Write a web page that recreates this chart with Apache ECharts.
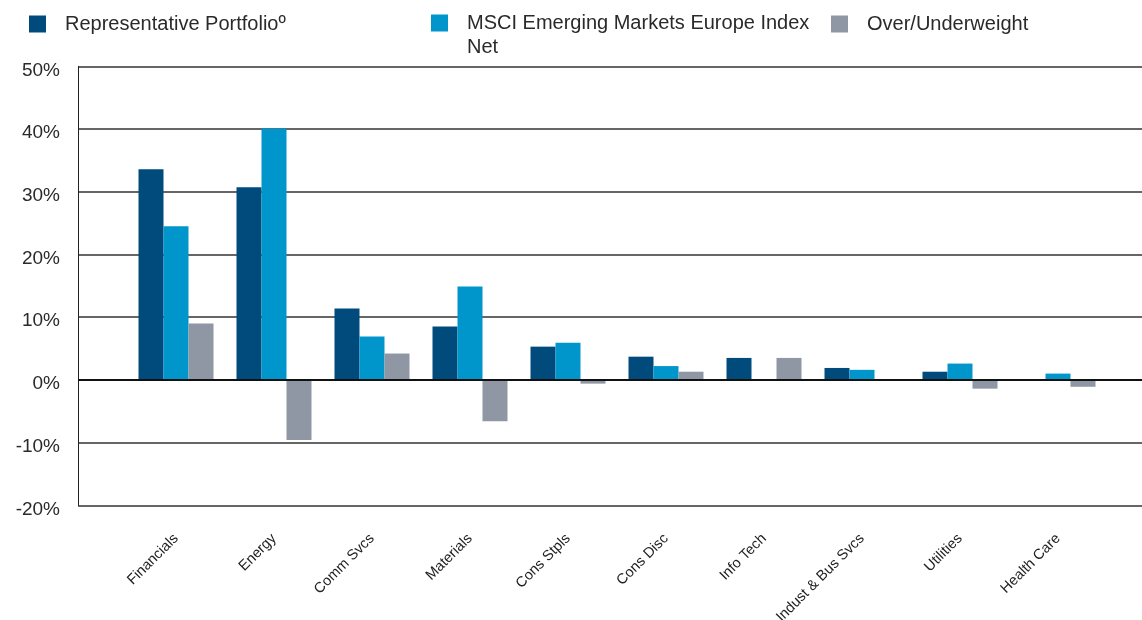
<!DOCTYPE html>
<html>
<head>
<meta charset="utf-8">
<script src="https://cdn.jsdelivr.net/npm/echarts@6/dist/echarts.min.js"></script>
<style>html,body{margin:0;padding:0;background:#fff}#c{width:1142px;height:620px}</style>
</head>
<body>
<div id="c"></div>
<script>
const categories = ['Financials','Energy','Comm Svcs','Materials','Cons Stpls','Cons Disc','Info Tech','Indust & Bus Svcs','Utilities','Health Care'];
const portfolio = [33.6, 30.7, 11.4, 8.5, 5.3, 3.7, 3.5, 1.9, 1.3, 0];
const benchmark = [24.5, 40.1, 6.9, 14.9, 5.9, 2.2, 0, 1.6, 2.6, 1.0];
const overUnder = [9.0, -9.6, 4.2, -6.6, -0.6, 1.3, 3.5, 0.1, -1.4, -1.1];
const yTicks = [-20, -10, 0, 10, 20, 30, 40, 50];

const names = ['Representative Portfolioº', 'MSCI Emerging Markets Europe Index Net', 'Over/Underweight'];
const colors = ['#004a7c', '#0096cc', '#8e97a3'];

const pad = arr => [null, ...arr, null];
const axisCats = ['', ...categories, ''];
const font = '"Liberation Sans", Arial, sans-serif';

const chart = echarts.init(document.getElementById('c'), null, {renderer: 'canvas'});
const legendText = {fontFamily: font, fontSize: 20, color: '#2a2a2a', lineHeight: 24};
const sq = 'path://M0,0h10v10h-10z';
const legendBase = {itemWidth: 45, itemHeight: 17, itemGap: 0, padding: 0, icon: sq, textStyle: legendText};
chart.setOption({
  animation: false,
  color: colors,
  legend: [
    Object.assign({}, legendBase, {data: [names[0]], left: 29, top: 12}),
    Object.assign({}, legendBase, {data: [names[1]], left: 431, top: -13,
      formatter: n => '\n' + n.replace(' Net', '\nNet')}),
    Object.assign({}, legendBase, {data: [names[2]], left: 831, top: 12})
  ],
  grid: {left: 78, width: 1078, top: 66.3, bottom: 114.7, containLabel: false, outerBoundsMode: 'none'},
  xAxis: {
    type: 'category', data: axisCats, boundaryGap: false,
    axisLine: {show: false}, axisTick: {show: false}, splitLine: {show: false},
    axisLabel: {rotate: 45, margin: 31, fontFamily: font, fontSize: 14.5, color: '#222', interval: 0}
  },
  yAxis: {
    type: 'value', min: yTicks[0], max: yTicks[yTicks.length - 1], interval: 10,
    axisLine: {show: true, lineStyle: {color: '#222', width: 1}},
    axisTick: {show: false},
    axisLabel: {
      formatter: v => '{a|' + v + '%}', margin: 18,
      rich: {a: {fontFamily: font, fontSize: 19, color: '#2a2a2a', padding: [8, 0, 0, 0]}}
    },
    splitLine: {show: true, lineStyle: {color: '#333', width: 1.5}}
  },
  series: [
    {name: names[0], type: 'bar', data: pad(portfolio), barWidth: 25, barGap: '0%',
     markLine: {silent: true, symbol: 'none', label: {show: false}, lineStyle: {color: '#111', width: 2, type: 'solid'}, data: [{yAxis: 0}]}},
    {name: names[1], type: 'bar', data: pad(benchmark), barWidth: 25, barGap: '0%'},
    {name: names[2], type: 'bar', data: pad(overUnder), barWidth: 25, barGap: '0%'}
  ]
});
</script>
</body>
</html>
